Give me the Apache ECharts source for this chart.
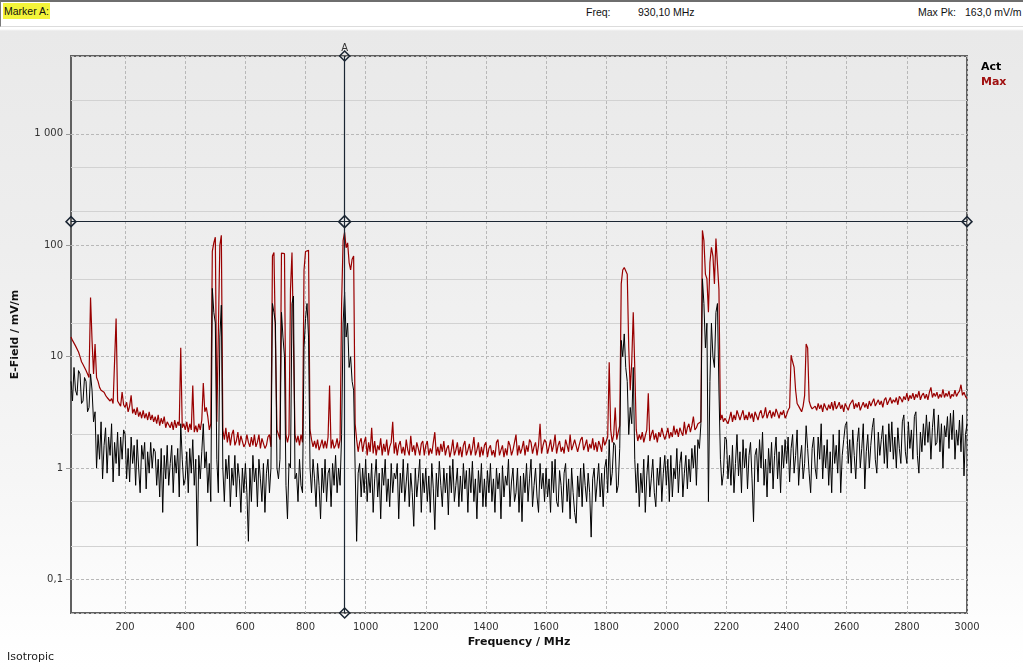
<!DOCTYPE html>
<html>
<head>
<meta charset="utf-8">
<script src="https://cdn.jsdelivr.net/npm/echarts@6/dist/echarts.min.js"></script>
<style>
  html, body { margin: 0; padding: 0; }
  body {
    width: 1023px; height: 671px; overflow: hidden; position: relative;
    background: linear-gradient(to bottom, #ffffff 0px, #ffffff 29px, #e9e9e9 31px, #eeeeee 250px, #f6f6f6 480px, #fefefe 640px, #ffffff 671px);
    font-family: "Liberation Sans", Arial, sans-serif;
  }
  #chart { position: absolute; left: 0; top: 0; width: 1023px; height: 671px; }
  #header {
    position: absolute; left: 0; top: 0; width: 1022px; height: 24px;
    background: #ffffff; border-top: 2px solid #6e6e6e; border-left: 1px solid #7a7a7a;
    border-bottom: 1px solid #dcdcdc; z-index: 5; font-size: 10.5px; color: #111;
  }
  #header span { position: absolute; top: 4px; white-space: nowrap; }
  #markerA { left: 2px; top: 1px !important; padding: 2px 1px; background: #f4f43a; }
  #iso { position: absolute; left: 7px; top: 650px; font-family: "DejaVu Sans", Verdana, sans-serif; font-size: 11px; color: #222; z-index: 5; }
</style>
</head>
<body>
<div id="chart"></div>
<div id="header">
  <span id="markerA">Marker A:</span>
  <span style="left:585px">Freq:</span>
  <span style="left:637px">930,10 MHz</span>
  <span style="left:917px">Max Pk:</span>
  <span style="left:964px">163,0 mV/m</span>
</div>
<div id="iso">Isotropic</div>
<script>
// ---------------- data ----------------
const FREQ_START = 20;   // MHz
const FREQ_STEP = 5;     // MHz
const FREQ_END = 3000;

// Max hold trace (mV/m); one row per 100 MHz (x00, x05, ... x95)
const MAX_VALUES = [
  15, 14, 13.5, 12.5, 12, 11, 10, 9, 8.5, 8, 7.5, 7, 6.5, 34, 14, 7,                         // 20-95
  13, 6.5, 6, 5.3, 5.0, 5.2, 4.8, 4.5, 4.3, 4.4, 4.0, 4.2, 3.8, 3.9, 22, 4.0, 3.9, 3.6, 4.8, 3.7, // 100
  3.5, 3.9, 3.2, 3.6, 4.5, 3.1, 3.4, 3.0, 3.5, 2.9, 3.2, 2.8, 3.3, 2.8, 3.1, 2.7, 3.2, 2.7, 3.0, 2.6, // 200
  2.9, 2.5, 3.0, 2.4, 2.8, 2.5, 2.9, 2.3, 2.6, 2.7, 2.3, 2.6, 2.2, 2.7, 2.3, 2.6, 2.4, 12, 2.3, 2.5,  // 300
  2.2, 2.6, 2.1, 2.5, 2.2, 5.5, 2.1, 2.4, 2.1, 2.5, 2.2, 2.7, 5.8, 3.2, 3.5, 2.9, 2.2, 2.5, 88, 105,  // 400
  118, 2.6, 2.5, 100, 123, 2.2, 1.8, 2.3, 1.7, 2.1, 1.6, 2.0, 2.2, 1.6, 1.75, 2.1, 1.6, 1.95, 2.0, 1.55, // 500
  1.65, 2.0, 1.7, 1.55, 1.9, 1.6, 2.0, 1.55, 1.7, 2.0, 1.5, 1.85, 1.9, 1.5, 1.6, 1.9, 2.0, 1.55, 80, 86, // 600
  86, 2.2, 2.0, 1.8, 85, 86, 84, 2.0, 1.7, 2.0, 40, 86, 86, 2.0, 1.7, 1.95, 1.6, 2.0, 1.7, 60,        // 700
  88, 90, 90, 2.2, 1.8, 1.55, 1.75, 1.5, 1.8, 1.45, 1.6, 1.8, 1.5, 1.75, 1.5, 1.9, 5.5, 1.5, 1.8, 1.5, // 800
  1.6, 1.85, 1.5, 1.8, 30, 110, 131, 95, 105, 70, 60, 75, 80, 2.5, 1.8, 1.4, 1.7, 1.85, 1.4, 1.7,    // 900
  1.9, 1.3, 1.7, 1.4, 2.3, 1.35, 1.75, 1.3, 1.6, 1.45, 1.85, 1.3, 1.65, 1.4, 1.8, 1.3, 1.55, 1.7, 2.6, 1.35, // 1000
  1.7, 1.3, 1.6, 1.75, 1.35, 1.55, 1.3, 1.8, 1.45, 1.3, 1.95, 1.4, 1.6, 1.3, 1.7, 1.5, 1.3, 1.65, 1.75, 1.3, // 1100
  1.6, 1.75, 1.3, 1.5, 1.35, 1.7, 2.1, 1.3, 1.55, 1.3, 1.65, 1.4, 1.75, 1.3, 1.5, 1.6, 1.25, 1.45, 1.8, 1.3, // 1200
  1.45, 1.7, 1.3, 1.55, 1.25, 1.6, 1.75, 1.3, 1.45, 1.65, 1.3, 1.5, 1.9, 1.3, 1.45, 1.7, 1.25, 1.55, 1.3, 1.6, // 1300
  1.7, 1.25, 1.5, 1.6, 1.3, 1.45, 1.25, 1.7, 1.8, 1.3, 1.45, 1.6, 1.25, 1.5, 1.3, 1.75, 1.6, 1.3, 1.45, 1.7, // 1400
  2.0, 1.3, 1.6, 1.35, 1.5, 1.75, 1.3, 1.6, 1.4, 1.8, 1.7, 1.35, 1.55, 1.7, 1.3, 1.6, 2.5, 1.35, 1.6, 1.8, // 1500
  1.7, 1.35, 1.55, 1.8, 1.4, 1.6, 2.0, 1.35, 1.6, 1.75, 1.4, 1.55, 1.35, 1.8, 1.6, 1.4, 2.0, 1.45, 1.6, 1.8, // 1600
  1.75, 1.4, 1.6, 1.8, 1.9, 1.45, 1.6, 1.8, 1.4, 1.65, 1.5, 1.85, 1.45, 1.7, 1.4, 1.75, 1.6, 1.4, 1.9, 1.6, // 1700
  1.6, 1.9, 8.9, 2.2, 1.7, 2.0, 3.5, 1.8, 2.1, 2.4, 45, 60, 63, 62, 55, 12, 5, 9, 25, 8,             // 1800
  2.2, 1.75, 2.0, 1.8, 2.1, 1.7, 1.95, 2.2, 4.7, 1.75, 2.0, 2.2, 1.8, 2.05, 1.7, 2.1, 1.9, 2.3, 2.0, 1.8, // 1900
  2.0, 2.3, 1.85, 2.1, 1.9, 2.4, 2.0, 2.25, 1.9, 2.3, 2.1, 1.95, 2.6, 2.0, 2.3, 2.5, 2.1, 2.4, 2.9, 2.2, // 2000
  2.3, 2.5, 2.4, 2.6, 136, 110, 55, 50, 25, 70, 96, 80, 45, 115, 115, 40, 2.7, 3.0, 2.6, 2.8,        // 2100
  2.9, 2.5, 2.8, 3.2, 2.6, 3.0, 2.7, 3.3, 3.4, 2.7, 3.0, 3.3, 2.7, 3.0, 2.7, 3.2, 2.8, 3.1, 2.6, 3.2, // 2200
  3.3, 2.7, 3.1, 3.3, 2.8, 3.0, 3.5, 2.8, 3.1, 3.3, 2.8, 3.2, 2.9, 3.4, 3.1, 2.8, 3.2, 3.0, 3.3, 2.8, // 2300
  3.0, 3.3, 3.5, 10.3, 9, 8, 5, 3.8, 3.6, 3.4, 3.2, 3.6, 4.5, 13, 12, 4, 3.6, 3.4, 3.3, 3.6,        // 2400
  3.3, 3.8, 3.4, 3.7, 3.2, 3.8, 3.5, 3.3, 3.7, 3.4, 3.9, 3.3, 4.0, 3.4, 3.6, 3.9, 3.4, 3.7, 3.2, 3.8, // 2500
  3.8, 3.3, 3.7, 3.9, 4.1, 3.4, 3.8, 3.5, 3.9, 3.3, 3.6, 3.9, 3.5, 3.8, 3.4, 4.0, 3.6, 3.9, 4.2, 3.6, // 2600
  3.6, 4.1, 3.7, 4.0, 3.5, 4.1, 4.3, 3.7, 4.0, 4.3, 3.8, 4.1, 3.9, 4.3, 3.7, 4.4, 4.2, 3.9, 4.4, 4.1, // 2700
  4.7, 4.0, 4.5, 4.2, 4.7, 4.1, 4.6, 4.3, 4.9, 4.1, 4.5, 4.7, 4.2, 4.6, 4.1, 4.8, 5.3, 4.3, 4.7, 4.4, // 2800
  4.8, 4.2, 4.6, 4.3, 5.1, 4.3, 4.7, 4.4, 4.9, 4.2, 4.6, 4.4, 5.0, 4.4, 4.7, 4.9, 5.6, 4.5, 4.8, 4.4, // 2900
  4.2                                                                                            // 3000
];

// Actual trace (mV/m); one row per 100 MHz (x00, x05, ... x95)
const ACT_VALUES = [
  6, 4, 8, 5, 4.5, 7.5, 7, 3.8, 4, 6.5, 6, 3.2, 3.5, 7, 5, 2.6,                                    // 20-95
  3.2, 1.0, 2.0, 1.2, 2.6, 0.8, 1.6, 2.3, 0.9, 1.9, 1.3, 2.5, 0.75, 1.7, 1.1, 2.1, 0.85, 1.9, 1.2, 2.2, // 100
  2.0, 0.8, 1.5, 0.75, 1.9, 1.1, 1.6, 0.7, 1.8, 1.0, 0.6, 1.6, 1.2, 1.7, 0.65, 1.4, 0.9, 1.7, 1.0, 1.5, // 200
  1.4, 0.7, 1.2, 0.55, 1.5, 0.4, 1.3, 0.8, 1.6, 0.7, 1.1, 1.6, 0.6, 1.3, 0.9, 1.5, 0.55, 2.5, 1.2, 0.7, // 300
  0.8, 1.4, 0.6, 1.5, 0.9, 1.8, 0.7, 1.2, 0.2, 1.3, 0.8, 1.4, 2.5, 1.0, 1.4, 0.6, 1.1, 0.5, 41, 25,    // 400
  20, 1.2, 0.6, 15, 29, 1.0, 0.5, 1.2, 0.8, 1.3, 0.45, 1.0, 0.7, 1.3, 0.55, 1.1, 0.8, 0.4, 1.0, 0.6,   // 500
  1.1, 0.6, 0.22, 1.0, 0.5, 1.3, 0.75, 1.0, 0.45, 1.2, 0.8, 0.5, 1.1, 0.4, 0.9, 1.2, 0.6, 1.0, 30, 25, // 600
  20, 1.0, 0.8, 1.2, 25, 15, 10, 0.7, 0.35, 1.1, 1.0, 30, 35, 0.8, 0.9, 0.5, 1.2, 0.7, 0.6, 12,      // 700
  22, 30, 15, 1.0, 0.6, 1.2, 0.8, 0.45, 1.1, 0.7, 0.35, 1.0, 0.6, 1.2, 0.5, 0.9, 1.0, 0.45, 1.1, 0.7, // 800
  1.3, 0.6, 1.0, 0.7, 2.0, 20, 38, 15, 20, 8, 10, 6, 5, 1.0, 0.22, 0.9, 1.1, 0.55, 1.0, 0.6,         // 900
  1.2, 0.5, 0.9, 0.6, 1.1, 0.4, 0.8, 1.2, 0.55, 0.9, 0.35, 1.0, 0.7, 1.2, 0.5, 0.8, 0.45, 1.1, 0.6, 0.9, // 1000
  0.8, 1.1, 0.35, 0.9, 0.6, 1.2, 0.5, 0.75, 1.1, 0.45, 0.9, 0.6, 0.3, 1.0, 0.55, 0.8, 1.2, 0.4, 0.9, 0.6, // 1100
  1.0, 0.5, 0.85, 0.4, 1.1, 0.65, 0.28, 0.9, 0.55, 1.15, 0.7, 0.45, 1.0, 0.6, 0.9, 0.38, 1.05, 0.6, 1.2, 0.5, // 1200
  0.7, 1.0, 0.45, 0.85, 0.5, 1.1, 0.65, 0.95, 0.4, 1.0, 0.6, 1.15, 0.5, 0.8, 0.35, 0.95, 0.6, 1.1, 0.45, 0.8, // 1300
  0.45, 0.95, 0.6, 1.1, 0.5, 0.8, 0.4, 1.0, 0.65, 0.9, 0.35, 1.05, 0.55, 0.85, 0.7, 1.2, 0.45, 0.75, 1.0, 0.5, // 1400
  0.6, 1.0, 0.4, 0.85, 0.33, 0.9, 0.6, 1.1, 0.5, 0.8, 1.2, 0.45, 0.7, 1.0, 0.55, 0.4, 1.1, 0.65, 0.9, 0.5, // 1500
  1.0, 0.55, 0.8, 0.4, 1.15, 0.6, 1.2, 0.5, 0.45, 0.95, 0.7, 0.4, 0.9, 1.1, 0.5, 0.8, 0.35, 1.0, 0.6, 0.4, // 1600
  0.32, 0.85, 0.55, 1.0, 0.45, 1.1, 0.7, 0.5, 0.9, 0.6, 0.24, 0.8, 1.0, 0.5, 0.75, 1.1, 0.55, 0.9, 0.45, 1.0, // 1700
  1.2, 0.6, 1.8, 0.7, 0.9, 1.7, 1.6, 0.6, 0.7, 1.5, 14, 10, 16, 8, 6, 2.0, 3.5, 2.5, 8, 1.2,         // 1800
  0.6, 1.1, 0.45, 0.9, 0.6, 1.2, 0.4, 0.85, 1.3, 0.55, 0.8, 1.2, 0.6, 0.45, 1.0, 0.7, 1.25, 0.5, 0.9, 1.3, // 1900
  0.7, 1.2, 0.5, 1.3, 0.55, 1.0, 0.8, 1.5, 0.6, 1.1, 1.4, 0.55, 0.9, 1.3, 0.65, 1.2, 0.75, 1.5, 1.0, 1.6, // 2000
  0.7, 1.8, 1.5, 2.5, 50, 30, 12, 20, 0.5, 6, 20, 10, 8, 25, 30, 5, 1.2, 0.7, 0.9, 1.9,              // 2100
  1.8, 0.8, 1.3, 0.7, 1.6, 0.6, 1.1, 2.0, 0.85, 1.4, 0.6, 1.8, 1.0, 1.5, 0.65, 1.3, 1.7, 0.8, 0.33, 1.3, // 2200
  1.5, 0.75, 1.8, 1.0, 2.1, 0.7, 1.2, 0.55, 1.5, 0.9, 1.7, 0.65, 1.3, 1.9, 0.8, 1.4, 0.6, 1.6, 1.0, 1.8, // 2300
  1.1, 1.9, 0.75, 1.5, 2.0, 0.9, 1.3, 2.2, 0.7, 1.2, 1.6, 0.8, 1.1, 2.4, 1.5, 0.9, 0.6, 1.5, 1.9, 1.0, // 2400
  0.8, 1.9, 1.2, 2.5, 0.8, 1.6, 1.0, 1.8, 0.7, 1.4, 0.6, 2.0, 1.1, 1.6, 0.9, 2.2, 0.6, 1.3, 1.8, 2.4, // 2500
  2.6, 1.1, 1.8, 0.9, 2.2, 1.3, 0.8, 1.7, 2.3, 1.0, 1.5, 2.5, 0.65, 1.4, 2.0, 1.0, 1.6, 2.3, 2.8, 1.2, // 2600
  0.9, 2.1, 1.3, 1.8, 2.4, 1.1, 2.0, 1.0, 2.5, 1.4, 2.6, 1.2, 1.9, 1.0, 2.3, 1.5, 1.1, 2.6, 3.0, 1.4, // 2700
  1.1, 2.6, 1.5, 2.2, 1.2, 2.9, 3.2, 1.3, 0.9, 2.1, 1.4, 2.5, 1.6, 3.0, 1.7, 2.6, 1.2, 2.3, 3.4, 1.6, // 2800
  1.7, 3.0, 1.4, 2.5, 1.0, 2.4, 1.9, 2.9, 1.5, 3.1, 1.8, 3.3, 1.2, 2.2, 1.6, 2.7, 1.4, 3.0, 0.85, 2.0, // 2900
  2.5                                                                                            // 3000
];

const X_TICKS = [200, 400, 600, 800, 1000, 1200, 1400, 1600, 1800, 2000, 2200, 2400, 2600, 2800, 3000];
const Y_MINOR_GRID = [0.2, 0.5, 2, 5, 20, 50, 200, 500, 2000];
const Y_MIN = 0.05, Y_MAX = 5000;
const MARKER_FREQ = 930.1;   // MHz
const MARKER_PEAK = 163.0;   // mV/m
const SERIES_NAMES = ['Act', 'Max'];

// ---------------- build ----------------
const freqs = MAX_VALUES.map((_, i) => FREQ_START + i * FREQ_STEP);
const maxData = freqs.map((f, i) => [f, MAX_VALUES[i]]);
const actData = freqs.map((f, i) => [f, ACT_VALUES[i]]);

const RED = '#990000';
const MARK = '#1b2633';
const FONT = '"DejaVu Sans", Verdana, sans-serif';

function yLabel(v) {
  const e = Math.log10(v);
  if (Math.abs(e - Math.round(e)) > 1e-6) return '';
  const p = Math.round(e);
  if (p < 0) return (Math.pow(10, p)).toFixed(-p).replace('.', ',');
  const s = String(Math.round(Math.pow(10, p)));
  return s.replace(/\B(?=(\d{3})+(?!\d))/g, ' ');
}

const chart = echarts.init(document.getElementById('chart'), null, { renderer: 'canvas' });
const markerSym = {
  symbol: 'diamond', symbolSize: 10,
  itemStyle: { color: 'rgba(0,0,0,0)', borderColor: MARK, borderWidth: 1.5 },
  label: { show: false }
};

chart.setOption({
  backgroundColor: 'transparent',
  animation: false,
  textStyle: { fontFamily: FONT },
  grid: {
    left: 71, right: 56, top: 56, bottom: 58,
    show: true, borderColor: '#606060', borderWidth: 2, backgroundColor: 'transparent'
  },
  legend: {
    orient: 'vertical', left: 970, top: 57, itemGap: 4,
    itemWidth: 0, itemHeight: 0, selectedMode: false,
    data: [
      { name: SERIES_NAMES[0], textStyle: { color: '#000000' } },
      { name: SERIES_NAMES[1], textStyle: { color: '#a01010' } }
    ],
    textStyle: { fontFamily: FONT, fontSize: 11, fontWeight: 'bold' }
  },
  xAxis: {
    type: 'value', min: FREQ_START, max: FREQ_END,
    name: 'Frequency / MHz', nameLocation: 'middle', nameGap: 23,
    nameTextStyle: { fontFamily: FONT, fontSize: 11, fontWeight: 'bold', color: '#111' },
    axisLine: { show: false },
    axisTick: { show: false, customValues: X_TICKS },
    axisLabel: { customValues: X_TICKS, formatter: v => String(v), color: '#333', fontSize: 10, fontFamily: FONT, margin: 9 },
    splitLine: { show: true, lineStyle: { color: '#b8b8b8', type: [3, 2], width: 1 } }
  },
  yAxis: {
    type: 'log', logBase: 10, min: Y_MIN, max: Y_MAX,
    name: 'E-Field / mV/m', nameLocation: 'middle', nameGap: 50,
    nameTextStyle: { fontFamily: FONT, fontSize: 11, fontWeight: 'bold', color: '#111' },
    axisLine: { show: false },
    axisTick: { show: true, length: 5, lineStyle: { color: '#9a9a9a' } },
    axisLabel: { formatter: yLabel, color: '#333', fontSize: 10, fontFamily: FONT, margin: 8,
                 showMinLabel: false, showMaxLabel: false },
    splitLine: { show: true, lineStyle: { color: '#b8b8b8', type: [3, 2], width: 1 } }
  },
  series: [
    {
      name: 'minorGrid', type: 'line', data: [], silent: true, z: 1,
      markLine: {
        silent: true, symbol: ['none', 'none'], z: 1, animation: false,
        label: { show: false },
        lineStyle: { color: '#d2d2d2', type: 'solid', width: 1 },
        data: Y_MINOR_GRID.map(v => ({ yAxis: v }))
      }
    },
    {
      name: SERIES_NAMES[1], type: 'line', data: maxData, z: 2,
      showSymbol: false, symbol: 'none', sampling: null,
      lineStyle: { color: RED, width: 1.2 }, itemStyle: { color: RED },
      markLine: {
        silent: true, symbol: ['none', 'none'], z: 10, animation: false,
        lineStyle: { color: MARK, type: 'solid', width: 1.2 },
        data: [
          { xAxis: MARKER_FREQ, label: { show: true, formatter: 'A', position: 'end', distance: 3,
              color: '#333', fontSize: 10, fontFamily: FONT } },
          { yAxis: MARKER_PEAK, label: { show: false } }
        ]
      },
      markPoint: {
        silent: true, z: 11, animation: false,
        data: [
          Object.assign({ coord: [MARKER_FREQ, MARKER_PEAK] }, markerSym, { symbolSize: 12 }),
          Object.assign({ coord: [FREQ_START, MARKER_PEAK] }, markerSym),
          Object.assign({ coord: [FREQ_END, MARKER_PEAK] }, markerSym),
          Object.assign({ coord: [MARKER_FREQ, Y_MAX] }, markerSym),
          Object.assign({ coord: [MARKER_FREQ, Y_MIN] }, markerSym)
        ]
      }
    },
    {
      name: SERIES_NAMES[0], type: 'line', data: actData, z: 3,
      showSymbol: false, symbol: 'none', sampling: null,
      lineStyle: { color: '#000000', width: 1 }, itemStyle: { color: '#000000' }
    }
  ]
});
</script>
</body>
</html>
